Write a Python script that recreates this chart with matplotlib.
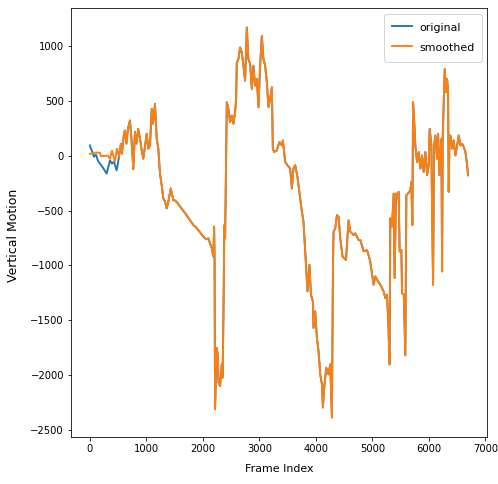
import matplotlib
matplotlib.use("Agg")
import matplotlib.pyplot as plt

# smoothed trajectory (frame index, vertical motion)
frames = [
    0, 89, 177, 195, 319, 355, 390, 443, 479, 514, 550, 567, 603, 621, 647, 674,
    709, 736, 768, 798, 824, 856, 887, 917, 945, 975, 1005, 1034, 1064, 1094, 1117,
    1152, 1183, 1211, 1241, 1271, 1300, 1330, 1360, 1383, 1431, 1454, 1477, 1507,
    1543, 1596, 1649, 1714, 1773, 1832, 1879, 1950, 2003, 2057, 2097, 2158, 2186,
    2199, 2207, 2216, 2243, 2264, 2278, 2305, 2335, 2349, 2363, 2376, 2381, 2394,
    2424, 2452, 2482, 2512, 2541, 2571, 2589, 2601, 2629, 2659, 2689, 2718, 2748,
    2778, 2806, 2837, 2867, 2895, 2925, 2956, 2984, 3014, 3044, 3073, 3103, 3133,
    3161, 3191, 3222, 3239, 3263, 3310, 3356, 3399, 3417, 3457, 3498, 3546, 3576,
    3604, 3635, 3675, 3723, 3753, 3782, 3812, 3853, 3888, 3913, 3948, 3959, 3989,
    4019, 4048, 4078, 4108, 4125, 4149, 4184, 4225, 4255, 4285, 4303, 4314, 4344,
    4374, 4402, 4433, 4473, 4534, 4580, 4610, 4668, 4698, 4757, 4787, 4846, 4906,
    4929, 4964, 5023, 5053, 5089, 5142, 5200, 5230, 5260, 5283, 5306, 5319, 5349,
    5378, 5395, 5420, 5443, 5466, 5484, 5514, 5527, 5558, 5585, 5603, 5633, 5674,
    5691, 5709, 5722, 5740, 5762, 5792, 5821, 5851, 5881, 5909, 5940, 5970, 5998,
    6016, 6046, 6058, 6076, 6094, 6117, 6147, 6165, 6188, 6223, 6236, 6246, 6264,
    6282, 6307, 6324, 6342, 6353, 6365, 6383, 6413, 6441, 6472, 6502, 6530, 6560,
    6590, 6619, 6649, 6679, 6696,
]
smoothed = [
    20, 30, 30, -2, 3, -25, 48, -52, 66, -6, 112, 21, 203, 233, 112, 248,
    324, 157, -122, 221, 112, 248, 157, 51, -25, 85, 203, 66, 96, 430, 294,
    475, 157, 66, -161, -267, -388, -415, -479, -434, -297, -352, -404, -406,
    -424, -461, -497, -543, -588, -631, -652, -697, -734, -761, -752, -843, -918,
    -645, -934, -2313, -1752, -1813, -2070, -2100, -1903, -2024, -1509, -918, -631, -752,
    491, 430, 309, 369, 294, 400, 521, 854, 884, 991, 945, 824, 687,
    1173, 884, 839, 612, 824, 642, 703, 445, 824, 1096, 884, 824, 673,
    445, 521, 627, 66, 36, 51, 127, 96, 142, -55, -85, -115, -297,
    -115, -85, -191, -388, -509, -600, -873, -1236, -994, -1267, -1327, -1570, -1418,
    -1661, -1782, -1994, -2085, -2297, -2115, -1933, -1994, -1903, -2388, -1024, -691, -661,
    -540, -555, -752, -918, -949, -588, -691, -722, -706, -767, -767, -870, -861,
    -897, -964, -1176, -1100, -1134, -1176, -1236, -1297, -1267, -1509, -1903, -570, -645,
    -343, -1115, -343, -388, -327, -873, -858, -1252, -1267, -1820, -358, -343, -313,
    -236, -631, 491, 339, 96, -55, 36, -115, 5, -145, 36, -176, -85,
    248, 96, -479, -1176, 96, 187, -25, 203, -176, 157, -1054, 157, 460,
    794, 582, 703, 582, -327, 96, 187, 66, 142, 5, 96, 187, 96,
    112, 82, 36, -85, -176,
]

# raw signal only departs from the smoothed one over the first ~500 frames
orig_head_frames = [0, 18, 35, 71, 106, 142, 177, 230, 296, 319, 355, 390, 426, 473, 496]
orig_head_values = [97, 66, 48, -6, 12, -43, -70, -106, -161, -115, -40, -70, -52, -131, -70]

tail = [i for i, f in enumerate(frames) if f > orig_head_frames[-1]]
orig_frames = orig_head_frames + [frames[i] for i in tail]
original = orig_head_values + [smoothed[i] for i in tail]

fig = plt.figure(figsize=(498 / 72, 484 / 72), dpi=72)
ax = fig.add_axes([71 / 498, 1 - 437 / 484, (487 - 71) / 498, (437 - 8) / 484])
ax.plot(orig_frames, original, color="#1f77b4", linewidth=1.9, label="original")
ax.plot(frames, smoothed, color="#ff7f0e", linewidth=1.9, label="smoothed")
ax.set_xlabel("Frame Index", fontsize=11, labelpad=10)
ax.set_ylabel("Vertical Motion", fontsize=12.5)
ax.yaxis.set_label_coords(-0.123, 0.47)
ax.tick_params(labelsize=10)
ax.legend(loc="upper right", fontsize=11, handleheight=1.6, handlelength=1.85,
          handletextpad=0.65, labelspacing=0.5, borderpad=0.65)
fig.savefig("out.png", dpi=72)
